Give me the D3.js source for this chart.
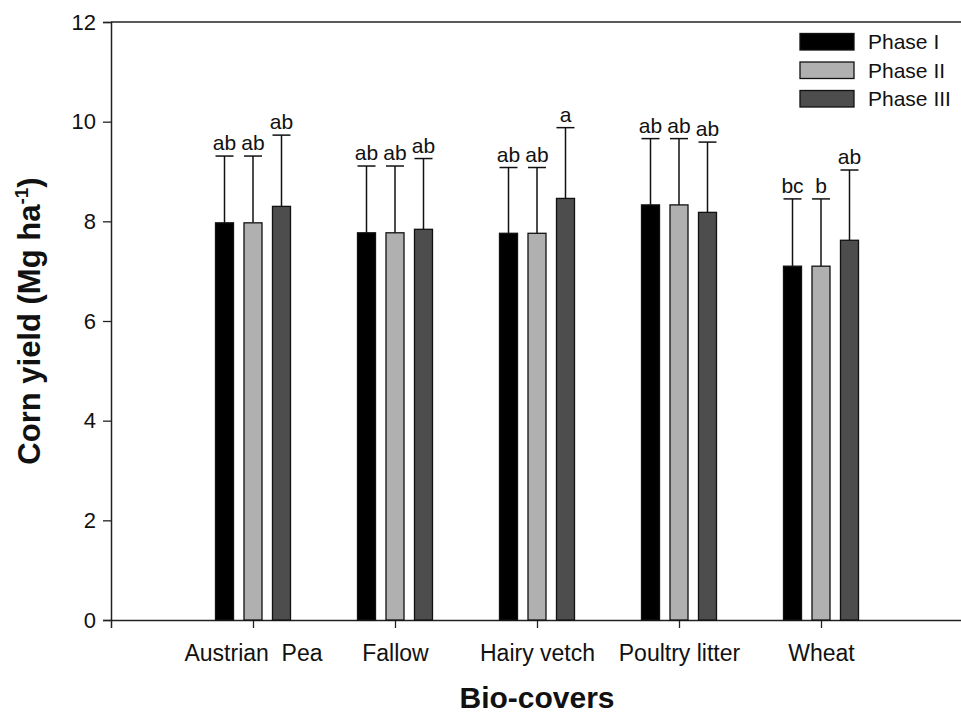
<!DOCTYPE html>
<html>
  <head>
    <script src="https://d3js.org/d3.v7.min.js"></script>
    <meta charset="utf-8">
    <title>Corn yield by bio-cover</title>
    <style>
      body { margin: 0; background: #fff; }
      text { font-family: Arial, "Liberation Sans", sans-serif; fill: #111; }
    </style>
  </head>
  <body>
    <script>
      // data
      const covers = ["Austrian  Pea", "Fallow", "Hairy vetch", "Poultry litter", "Wheat"];
      const phases = ["Phase I", "Phase II", "Phase III"];
      const colors = ["#000000", "#b0b0b0", "#4d4d4d"];
      const means = [
        [7.97, 7.97, 8.30],
        [7.77, 7.77, 7.84],
        [7.76, 7.76, 8.46],
        [8.33, 8.33, 8.18],
        [7.10, 7.10, 7.62]
      ];
      const errTops = [
        [9.31, 9.31, 9.73],
        [9.11, 9.11, 9.26],
        [9.08, 9.08, 9.88],
        [9.66, 9.66, 9.59],
        [8.45, 8.45, 9.03]
      ];
      const letters = [
        ["ab", "ab", "ab"],
        ["ab", "ab", "ab"],
        ["ab", "ab", "a"],
        ["ab", "ab", "ab"],
        ["bc", "b", "ab"]
      ];
      const yTicks = [0, 2, 4, 6, 8, 10, 12];

      const W = 961, H = 717;
      const mLeft = 111, mRight = 963, mTop = 22, mBottom = 620;

      const svg = d3.select("body").append("svg")
        .attr("width", W).attr("height", H);

      const x = d3.scalePoint().domain(covers).range([mLeft, mRight]).padding(1);
      const y = d3.scaleLinear().domain([0, 12]).range([mBottom, mTop]);
      const xs = d3.scaleBand().domain(phases).range([-37.5, 37.5]).paddingInner(0.368);

      // frame
      svg.append("line").attr("x1", mLeft).attr("x2", mRight).attr("y1", mTop).attr("y2", mTop)
        .attr("stroke", "#222").attr("stroke-width", 1.5);

      const yAxis = svg.append("g")
        .attr("transform", `translate(${mLeft},0)`)
        .call(d3.axisLeft(y).tickValues(yTicks).tickSize(8).tickPadding(7));
      yAxis.selectAll("text").style("font-size", "22px");

      const xAxis = svg.append("g")
        .attr("transform", `translate(0,${mBottom})`)
        .call(d3.axisBottom(x).tickSize(8).tickPadding(17));
      xAxis.selectAll("text").style("font-size", "23px").style("white-space", "pre");
      [yAxis, xAxis].forEach(g => {
        g.select(".domain").attr("stroke", "#222").attr("stroke-width", 1.5);
        g.selectAll(".tick line").attr("stroke", "#222").attr("stroke-width", 1.3);
        g.selectAll("text").attr("fill", "#111").style("font-family", "Arial, 'Liberation Sans', sans-serif");
      });

      // bars
      const groups = svg.selectAll("g.cover")
        .data(covers)
        .enter().append("g")
        .attr("class", "cover")
        .attr("transform", d => `translate(${x(d)},0)`);

      groups.each(function(c, ci) {
        const g = d3.select(this);
        phases.forEach((p, pi) => {
          const bx = xs(p), bw = xs.bandwidth(), cx = bx + bw / 2;
          g.append("line")
            .attr("x1", cx).attr("x2", cx)
            .attr("y1", y(means[ci][pi])).attr("y2", y(errTops[ci][pi]))
            .attr("stroke", "#111").attr("stroke-width", 1.5);
          g.append("line")
            .attr("x1", bx).attr("x2", bx + bw)
            .attr("y1", y(errTops[ci][pi])).attr("y2", y(errTops[ci][pi]))
            .attr("stroke", "#111").attr("stroke-width", 1.5);
          g.append("rect")
            .attr("x", bx).attr("width", bw)
            .attr("y", y(means[ci][pi]))
            .attr("height", y(0) - y(means[ci][pi]))
            .attr("fill", colors[pi])
            .attr("stroke", "#111").attr("stroke-width", 1.3);
          g.append("text")
            .attr("x", cx).attr("y", y(errTops[ci][pi]) - 6)
            .attr("text-anchor", "middle")
            .style("font-size", "21px")
            .text(letters[ci][pi]);
        });
      });

      // legend
      const legend = svg.append("g").attr("transform", "translate(800,33.5)");
      phases.forEach((p, i) => {
        legend.append("rect")
          .attr("x", 0).attr("y", i * 28.5).attr("width", 54).attr("height", 16.5)
          .attr("fill", colors[i]).attr("stroke", "#111").attr("stroke-width", 1.3);
        legend.append("text")
          .attr("x", 68).attr("y", i * 28.5 + 15.5)
          .style("font-size", "21px")
          .text(p);
      });

      // axis titles
      svg.append("text")
        .attr("x", 537).attr("y", 708)
        .attr("text-anchor", "middle")
        .style("font-size", "30px").style("font-weight", "bold")
        .text("Bio-covers");

      const yt = svg.append("text")
        .attr("transform", "translate(40,321) rotate(-90)")
        .attr("text-anchor", "middle")
        .style("font-size", "31px").style("font-weight", "bold");
      yt.append("tspan").text("Corn yield (Mg ha");
      yt.append("tspan").attr("dy", -12).style("font-size", "19px").text("-1");
      yt.append("tspan").attr("dy", 12).text(")");
    </script>
  </body>
</html>
